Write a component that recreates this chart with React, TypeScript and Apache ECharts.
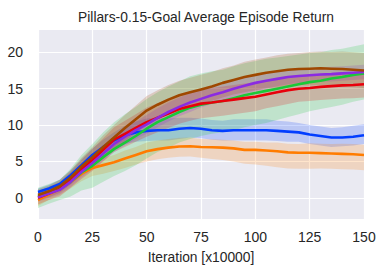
import React, { useEffect, useRef } from "react";
import * as echarts from "echarts";

const xs = [0, 5, 10, 15, 20, 25, 30, 35, 40, 45, 50, 55, 60, 65, 70, 75, 80, 85, 90, 95, 100, 105, 110, 115, 120, 125, 130, 135, 140, 145, 150];

const blueMean = [0.8, 1.3, 1.9, 3.1, 4.5, 5.9, 7.0, 7.9, 8.6, 9.0, 9.2, 9.3, 9.3, 9.5, 9.6, 9.5, 9.3, 9.2, 9.3, 9.3, 9.3, 9.3, 9.2, 9.1, 9.0, 8.7, 8.5, 8.3, 8.3, 8.4, 8.6];
const orangeMean = [-0.3, 0.5, 1.2, 2.2, 3.3, 4.1, 4.5, 4.9, 5.4, 5.9, 6.4, 6.7, 6.9, 7.05, 7.1, 7.0, 6.95, 6.9, 6.8, 6.6, 6.6, 6.5, 6.4, 6.25, 6.2, 6.2, 6.15, 6.1, 6.05, 6.0, 5.9];
const greenMean = [0.2, 0.7, 1.2, 2.2, 3.5, 4.4, 5.6, 6.7, 7.6, 8.5, 9.5, 10.4, 11.1, 11.8, 12.4, 12.8, 13.1, 13.3, 13.7, 14.1, 14.4, 14.7, 15.0, 15.3, 15.6, 15.9, 16.1, 16.4, 16.6, 16.9, 17.1];
const redMean = [0.0, 0.6, 1.2, 2.5, 3.9, 5.2, 6.6, 8.0, 8.8, 9.6, 10.4, 11.0, 11.6, 12.2, 12.6, 12.95, 13.1, 13.3, 13.5, 13.7, 13.9, 14.2, 14.5, 14.8, 15.0, 15.1, 15.25, 15.35, 15.45, 15.5, 15.6];
const purpleMean = [0.1, 0.6, 1.1, 2.2, 3.6, 4.8, 6.1, 7.4, 8.4, 9.3, 10.1, 11.0, 11.8, 12.5, 13.1, 13.6, 14.1, 14.5, 15.0, 15.4, 15.8, 16.1, 16.35, 16.6, 16.75, 16.85, 16.95, 17.0, 17.1, 17.2, 17.3];
const brownMean = [0.4, 0.9, 1.6, 2.8, 4.3, 5.6, 7.0, 8.3, 9.6, 10.8, 12.0, 12.8, 13.5, 14.1, 14.5, 14.9, 15.3, 15.8, 16.2, 16.6, 16.9, 17.2, 17.4, 17.6, 17.7, 17.75, 17.8, 17.75, 17.7, 17.6, 17.5];

const blueLow = [0.5, 0.5, 0.6, 0.7, 0.8, 0.9, 1.0, 1.1, 1.2, 1.3, 1.4, 1.4, 1.4, 1.4, 1.3, 1.3, 1.3, 1.3, 1.4, 1.4, 1.4, 1.4, 1.4, 1.4, 1.3, 1.3, 1.3, 1.3, 1.2, 1.2, 1.2];
const blueHigh = [0.5, 0.5, 0.6, 0.7, 0.8, 0.9, 1.0, 1.1, 1.3, 1.5, 1.7, 1.7, 1.6, 1.5, 1.4, 1.4, 1.4, 1.4, 1.5, 1.5, 1.5, 1.5, 1.4, 1.4, 1.3, 1.3, 1.3, 1.3, 1.4, 1.5, 1.5];
const orangeLow = [0.8, 0.8, 0.8, 0.9, 1.0, 1.1, 1.2, 1.2, 1.3, 1.3, 1.4, 1.4, 1.4, 1.4, 1.4, 1.5, 1.6, 1.7, 1.8, 1.9, 2.0, 2.1, 2.2, 2.2, 2.2, 2.2, 2.1, 2.1, 2.1, 2.1, 2.1];
const orangeHigh = [0.8, 0.8, 0.8, 0.9, 1.0, 1.0, 1.0, 1.0, 1.1, 1.1, 1.2, 1.2, 1.2, 1.2, 1.2, 1.1, 1.1, 1.1, 1.1, 1.1, 1.1, 1.1, 1.2, 1.2, 1.2, 1.3, 1.3, 1.3, 1.4, 1.4, 1.4];
const greenLow = [1.6, 1.5, 1.5, 2.0, 2.5, 3.0, 3.4, 3.7, 3.9, 4.0, 4.1, 4.1, 4.2, 4.2, 4.3, 4.3, 4.3, 4.3, 4.4, 4.4, 4.4, 4.4, 4.3, 4.2, 4.1, 4.0, 3.9, 3.9, 3.8, 3.7, 3.6];
const greenHigh = [1.2, 1.2, 1.3, 1.8, 2.4, 3.0, 3.4, 3.7, 3.9, 4.0, 4.1, 4.1, 4.2, 4.2, 4.3, 4.3, 4.3, 4.3, 4.4, 4.4, 4.4, 4.4, 4.3, 4.2, 4.1, 4.0, 3.9, 3.9, 3.9, 3.9, 4.0];
const redLow = [0.9, 0.9, 1.0, 1.1, 1.3, 1.5, 1.6, 1.7, 1.8, 1.9, 2.0, 2.0, 2.0, 2.0, 2.0, 2.0, 2.0, 2.0, 2.0, 2.0, 2.0, 1.9, 1.9, 1.9, 1.8, 1.8, 1.8, 1.8, 1.8, 1.8, 1.8];
const redHigh = [0.9, 0.9, 1.0, 1.1, 1.3, 1.5, 1.6, 1.7, 1.8, 1.9, 2.0, 2.0, 2.0, 2.0, 2.0, 2.0, 2.0, 2.0, 2.0, 2.0, 2.0, 1.9, 1.9, 1.9, 1.8, 1.8, 1.8, 1.8, 1.8, 1.8, 1.8];
const purpleLow = [0.6, 0.6, 0.6, 0.7, 0.8, 0.9, 1.0, 1.1, 1.2, 1.2, 1.3, 1.3, 1.3, 1.3, 1.3, 1.2, 1.2, 1.2, 1.1, 1.1, 1.1, 1.1, 1.0, 1.0, 1.0, 1.0, 1.0, 1.0, 1.0, 1.0, 1.0];
const purpleHigh = [0.6, 0.6, 0.6, 0.7, 0.8, 0.9, 1.0, 1.1, 1.2, 1.2, 1.3, 1.3, 1.3, 1.3, 1.3, 1.2, 1.2, 1.2, 1.1, 1.1, 1.1, 1.1, 1.0, 1.0, 1.0, 1.0, 1.0, 1.0, 1.0, 1.0, 1.0];
const brownLow = [0.8, 0.8, 0.9, 1.0, 1.2, 1.4, 1.6, 1.7, 1.8, 1.9, 2.0, 2.0, 2.0, 2.0, 2.0, 2.0, 2.0, 2.0, 2.0, 2.1, 2.1, 2.1, 2.2, 2.2, 2.2, 2.3, 2.3, 2.3, 2.4, 2.4, 2.4];
const brownHigh = [0.8, 0.8, 0.9, 1.0, 1.2, 1.4, 1.6, 1.7, 1.8, 1.9, 2.0, 2.0, 2.0, 2.0, 2.0, 2.0, 2.0, 2.0, 2.0, 2.1, 2.1, 2.1, 2.2, 2.2, 2.2, 2.3, 2.3, 2.3, 2.4, 2.4, 2.4];

const seriesDefs = [
  { name: "blue", color: "#023eff", mean: blueMean, low: blueLow, high: blueHigh },
  { name: "orange", color: "#ff7c00", mean: orangeMean, low: orangeLow, high: orangeHigh },
  { name: "green", color: "#1ac938", mean: greenMean, low: greenLow, high: greenHigh },
  { name: "red", color: "#e8000b", mean: redMean, low: redLow, high: redHigh },
  { name: "purple", color: "#8b2be2", mean: purpleMean, low: purpleLow, high: purpleHigh },
  { name: "brown", color: "#9f4800", mean: brownMean, low: brownLow, high: brownHigh },
];

const xTicks = [0, 25, 50, 75, 100, 125, 150];
const yTicks = [0, 5, 10, 15, 20];

const FONT = "Liberation Sans, Arial, sans-serif";
const TXT = "#262626";

export default function App() {
  const ref = useRef<HTMLDivElement>(null);
  useEffect(() => {
    if (!ref.current) return;
    const chart = echarts.init(ref.current, undefined, { renderer: "svg" });
    const series: any[] = [];
    seriesDefs.forEach((s) => {
      series.push({
        type: "custom",
        silent: true,
        clip: true,
        z: 1,
        data: xs.map((x, i) => [x, s.mean[i] - s.low[i], s.mean[i] + s.high[i]]),
        encode: { x: 0, y: [1, 2] },
        renderItem: (params: any, api: any) => {
          if (params.dataIndex !== 0) return null;
          const upper = xs.map((x, i) => api.coord([x, s.mean[i] + s.high[i]]));
          const lower = xs.map((x, i) => api.coord([x, s.mean[i] - s.low[i]])).reverse();
          return {
            type: "polygon",
            shape: { points: upper.concat(lower) },
            style: { fill: s.color, opacity: 0.2 },
          };
        },
      });
    });
    seriesDefs.forEach((s) => {
      series.push({
        type: "line",
        data: xs.map((x, i) => [x, s.mean[i]]),
        showSymbol: false,
        lineStyle: { color: s.color, width: 2.6 },
        z: 3,
      });
    });
    chart.setOption({
      animation: false,
      title: {
        text: "Pillars-0.15-Goal Average Episode Return",
        left: 201,
        top: 5,
        textAlign: "center",
        textStyle: { fontFamily: FONT, fontSize: 13.8, fontWeight: "normal", color: TXT },
      },
      grid: {
        left: 38,
        right: 21,
        top: 29,
        bottom: 56,
        show: true,
        backgroundColor: "#eaeaf2",
        borderWidth: 0,
      },
      xAxis: {
        type: "value",
        min: xTicks[0],
        max: xTicks[xTicks.length - 1],
        interval: 25,
        name: "Iteration [x10000]",
        nameLocation: "middle",
        nameGap: 31,
        nameTextStyle: { fontFamily: FONT, fontSize: 13.8, color: TXT },
        axisLine: { show: false },
        axisTick: { show: false },
        axisLabel: { fontFamily: FONT, fontSize: 14, color: TXT, margin: 11 },
        splitLine: { show: true, lineStyle: { color: "#ffffff", width: 1.2 } },
      },
      yAxis: {
        type: "value",
        min: -2.9,
        max: 23.2,
        axisLine: { show: false },
        axisTick: { show: false },
        axisLabel: {
          fontFamily: FONT,
          fontSize: 14,
          color: TXT,
          margin: 15,
          showMinLabel: false,
          showMaxLabel: false,
          formatter: (v: number) => (yTicks.includes(v) ? String(v) : ""),
        },
        splitLine: { show: true, lineStyle: { color: "#ffffff", width: 1.2 } },
      },
      series,
    });
    return () => chart.dispose();
  }, []);
  return <div ref={ref} style={{ width: 385, height: 275, position: "absolute", left: 0, top: 0 }} />;
}
